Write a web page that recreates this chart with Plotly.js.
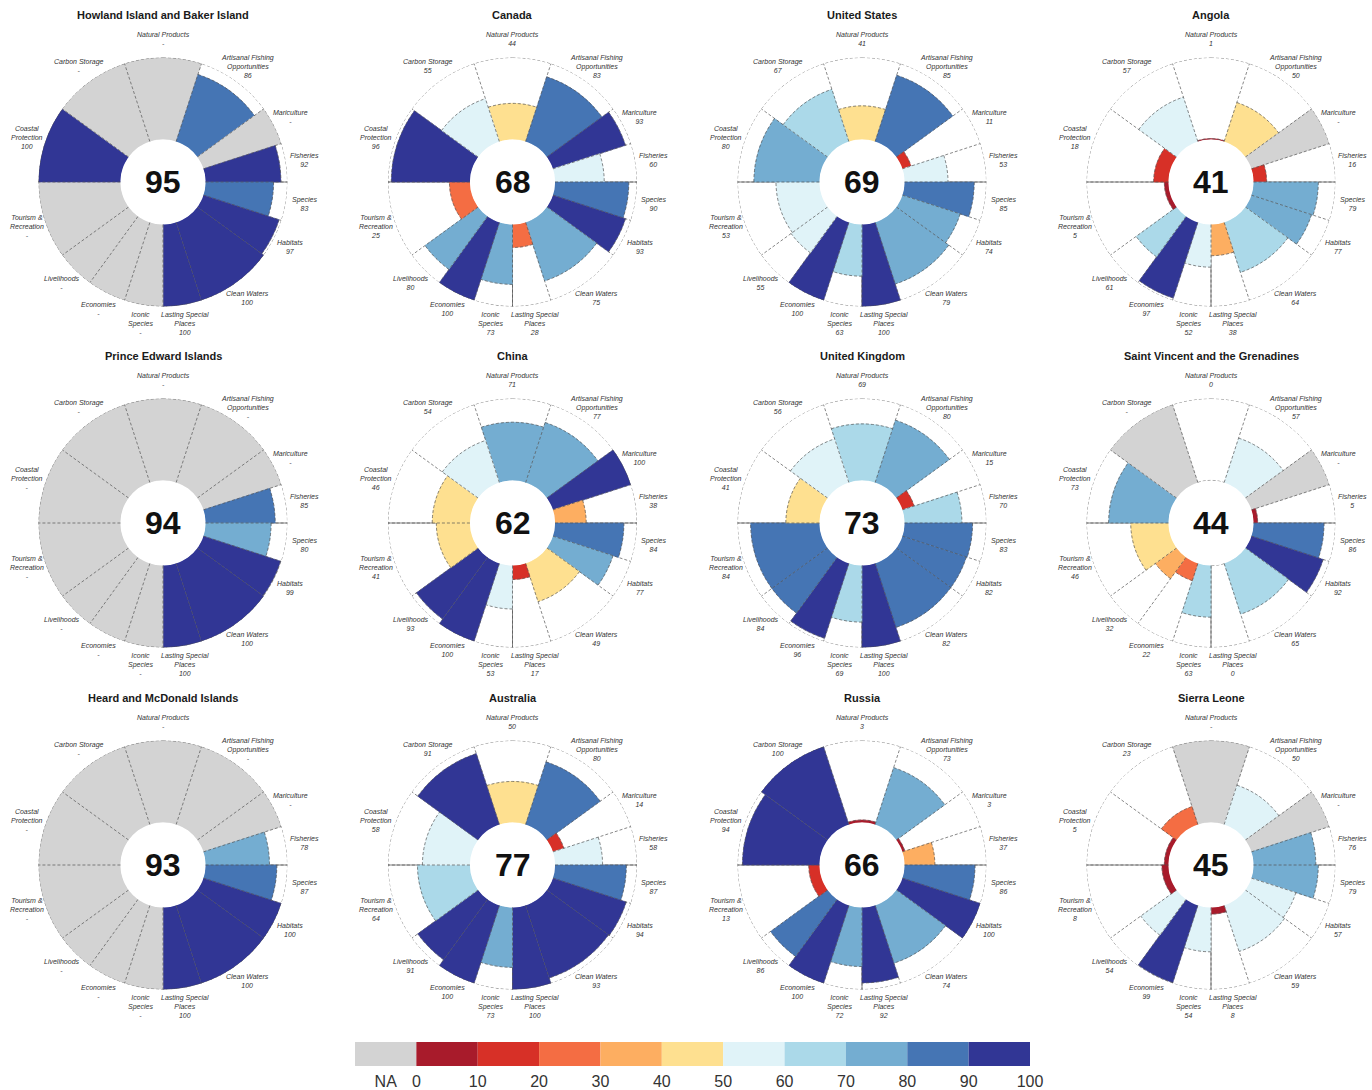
<!DOCTYPE html>
<html>
<head>
<meta charset="utf-8">
<script src="https://cdn.plot.ly/plotly-3.0.1.min.js"></script>
<style>
  html, body { margin: 0; padding: 0; background: #ffffff; }
  #chart { width: 1372px; height: 1090px; }
</style>
</head>
<body>
<div id="chart"></div>
<script>
// Goals, clockwise from the top of each flower
const goals = [
  'Natural Products', 'Artisanal Fishing<br>Opportunities', 'Mariculture', 'Fisheries',
  'Species', 'Habitats', 'Clean Waters', 'Lasting Special<br>Places', 'Iconic<br>Species',
  'Economies', 'Livelihoods', 'Tourism &<br>Recreation', 'Coastal<br>Protection', 'Carbon Storage'
];
// Relative weight of each goal (sub-goals share one goal's weight)
const goalWeights = [1, 1, 0.5, 0.5, 0.5, 0.5, 1, 0.5, 0.5, 0.5, 0.5, 1, 1, 1];

const regions = [
  'Howland Island and Baker Island', 'Canada', 'United States', 'Angola',
  'Prince Edward Islands', 'China', 'United Kingdom', 'Saint Vincent and the Grenadines',
  'Heard and McDonald Islands', 'Australia', 'Russia', 'Sierra Leone'
];
const indexScores = [95, 68, 69, 41, 94, 62, 73, 44, 93, 77, 66, 45];

// Goal scores per region (null = not applicable)
const howland   = [null, 86, null, 92, 83, 97, 100, 100, null, null, null, null, 100, null];
const canada    = [44, 83, 93, 60, 90, 93, 75, 28, 73, 100, 80, 25, 96, 55];
const usa       = [41, 85, 11, 53, 85, 74, 79, 100, 63, 100, 55, 53, 80, 67];
const angola    = [1, 50, null, 16, 79, 77, 64, 38, 52, 97, 61, 5, 18, 57];
const princeEd  = [null, null, null, 85, 80, 99, 100, 100, null, null, null, null, null, null];
const china     = [71, 77, 100, 38, 84, 77, 49, 17, 53, 100, 93, 41, 46, 54];
const uk        = [69, 80, 15, 70, 83, 82, 82, 100, 69, 96, 84, 84, 41, 56];
const stVincent = [0, 57, null, 5, 86, 92, 65, 0, 63, 22, 32, 46, 73, null];
const heard     = [null, null, null, 78, 87, 100, 100, 100, null, null, null, null, null, null];
const australia = [50, 80.4, 14, 58, 87, 94, 93, 100, 73, 100, 91, 64, 58, 91];
const russia    = [3, 73, 3, 37, 86, 100, 74, 92, 72, 100, 86, 13, 94, 100];
const sierra    = [null, 50.4, null, 76, 79, 57, 59, 8, 54, 99, 54, 8, 5, 23];
const goalScores = [howland, canada, usa, angola, princeEd, china, uk, stVincent,
                    heard, australia, russia, sierra];

// Score classes: (0,10], (10,20], ... (90,100]
const binColors = ['#a81b2b', '#d73027', '#f46d43', '#fdae61', '#fee090',
                   '#e0f3f8', '#abd9e9', '#74add1', '#4575b4', '#313695'];
const naColor = '#d3d3d3';
const legendLabels = ['NA', '0', '10', '20', '30', '40', '50', '60', '70', '80', '90', '100'];

// ---------- layout geometry ----------
const W = 1372, H = 1090;
const colX = [163, 512.5, 862, 1211];
const rowY = [182, 523, 865];
const outerR = 124.5;
const holeFrac = 0.342;
const labelR = 143;
const titleGap = 167;
const lineCol = '#555555';

function scoreColor(v) {
  if (v === null) return naColor;
  const k = v <= 0 ? 0 : Math.min(9, Math.ceil(v / 10) - 1);
  return binColors[k];
}

const unit = 360 / goalWeights.reduce((a, b) => a + b, 0);
const bounds = [-goalWeights[0] * unit / 2];
goalWeights.forEach(w => bounds.push(bounds[bounds.length - 1] + w * unit));
const centers = goalWeights.map((w, i) => (bounds[i] + bounds[i + 1]) / 2);
const widths = goalWeights.map(w => w * unit);

const px = x => x / W;
const py = y => 1 - y / H;

const traces = [];
const annotations = [];
const layout = {
  width: W, height: H,
  margin: { l: 0, r: 0, t: 0, b: 0 },
  paper_bgcolor: '#ffffff',
  plot_bgcolor: '#ffffff',
  showlegend: false,
  font: { family: 'Liberation Sans, Arial, sans-serif', color: '#222' },
  annotations: annotations
};

regions.forEach((name, idx) => {
  const row = Math.floor(idx / 4), col = idx % 4;
  const cx = colX[col], cy = rowY[row];
  const key = idx === 0 ? 'polar' : 'polar' + (idx + 1);
  const scores = goalScores[idx];

  layout[key] = {
    domain: { x: [px(cx - outerR), px(cx + outerR)], y: [py(cy + outerR), py(cy - outerR)] },
    hole: holeFrac,
    bgcolor: 'rgba(0,0,0,0)',
    bargap: 0,
    radialaxis: { range: [0, 100], showline: false, showticklabels: false, ticks: '', showgrid: false },
    angularaxis: {
      rotation: 90, direction: 'clockwise',
      tickvals: [90, 180, 270], showticklabels: false, ticks: '',
      showgrid: true, gridcolor: '#666666', gridwidth: 0.8, showline: false
    }
  };

  // petals
  const colors = scores.map(scoreColor);
  traces.push({
    type: 'barpolar', subplot: key,
    r: scores.map(v => (v === null ? 100 : v)),
    theta: centers, width: widths,
    marker: { color: colors, line: { color: colors, width: 0.5 } },
    hoverinfo: 'skip'
  });

  // dashed outlines: petal boundaries, outer ring and score arcs
  const rr = [], tt = [];
  bounds.slice(0, -1).forEach(b => { rr.push(0, 100, null); tt.push(b, b, null); });
  for (let a = 0; a <= 360; a += 2) { rr.push(100); tt.push(a); }
  rr.push(null); tt.push(null);
  scores.forEach((v, i) => {
    if (v === null) return;
    const n = Math.max(2, Math.ceil(widths[i] / 1.5));
    for (let k = 0; k <= n; k++) { rr.push(v); tt.push(bounds[i] + (bounds[i + 1] - bounds[i]) * k / n); }
    rr.push(null); tt.push(null);
  });
  traces.push({
    type: 'scatterpolar', subplot: key, mode: 'lines',
    r: rr, theta: tt, connectgaps: false,
    line: { color: lineCol, width: 0.7, dash: '3px,2px' },
    hoverinfo: 'skip'
  });

  // title
  annotations.push({
    xref: 'paper', yref: 'paper', x: px(cx), y: py(cy - titleGap),
    text: '<b>' + name + '</b>', showarrow: false,
    xanchor: 'center', yanchor: 'middle',
    font: { size: 11, color: '#1a1a1a', family: 'Liberation Sans, Arial, sans-serif' }
  });
  // index score in the centre
  annotations.push({
    xref: 'paper', yref: 'paper', x: px(cx), y: py(cy),
    text: '<b>' + indexScores[idx] + '</b>', showarrow: false,
    xanchor: 'center', yanchor: 'middle',
    font: { size: 32, color: '#111111', family: 'Liberation Sans, Arial, sans-serif' }
  });
  // goal labels
  goals.forEach((g, i) => {
    const a = centers[i] * Math.PI / 180;
    const v = scores[i];
    const val = v === null ? '-' : String(Math.round(v));
    const txt = g.split('<br>').map(s => '<i>' + s + '</i>').join('<br>') + '<br><i>' + val + '</i>';
    annotations.push({
      xref: 'paper', yref: 'paper',
      x: px(cx + labelR * Math.sin(a)), y: py(cy - labelR * Math.cos(a)),
      text: txt, showarrow: false, xanchor: 'center', yanchor: 'middle',
      align: 'center',
      font: { size: 7, color: '#333333', family: 'Liberation Sans, Arial, sans-serif' }
    });
  });
});

// colour key along the bottom
const keyX = [-0.5].concat(binColors.map((c, i) => i + 0.5));
traces.push({
  type: 'bar', xaxis: 'x', yaxis: 'y',
  x: keyX, y: keyX.map(() => 1), width: keyX.map(() => 1),
  marker: { color: [naColor].concat(binColors), line: { width: 0 } },
  hoverinfo: 'skip'
});
layout.xaxis = {
  domain: [px(355), px(1030)], range: [-1, 10],
  tickvals: [-0.5].concat(legendLabels.slice(1).map((t, i) => i)),
  ticktext: legendLabels,
  ticks: '', showgrid: false, zeroline: false, showline: false,
  ticklabelstandoff: 4,
  tickfont: { size: 16, color: '#333333' }, fixedrange: true
};
layout.yaxis = {
  domain: [py(1066), py(1042)], range: [0, 1],
  visible: false, fixedrange: true
};

Plotly.newPlot('chart', traces, layout, { staticPlot: true, displayModeBar: false });
</script>
</body>
</html>
